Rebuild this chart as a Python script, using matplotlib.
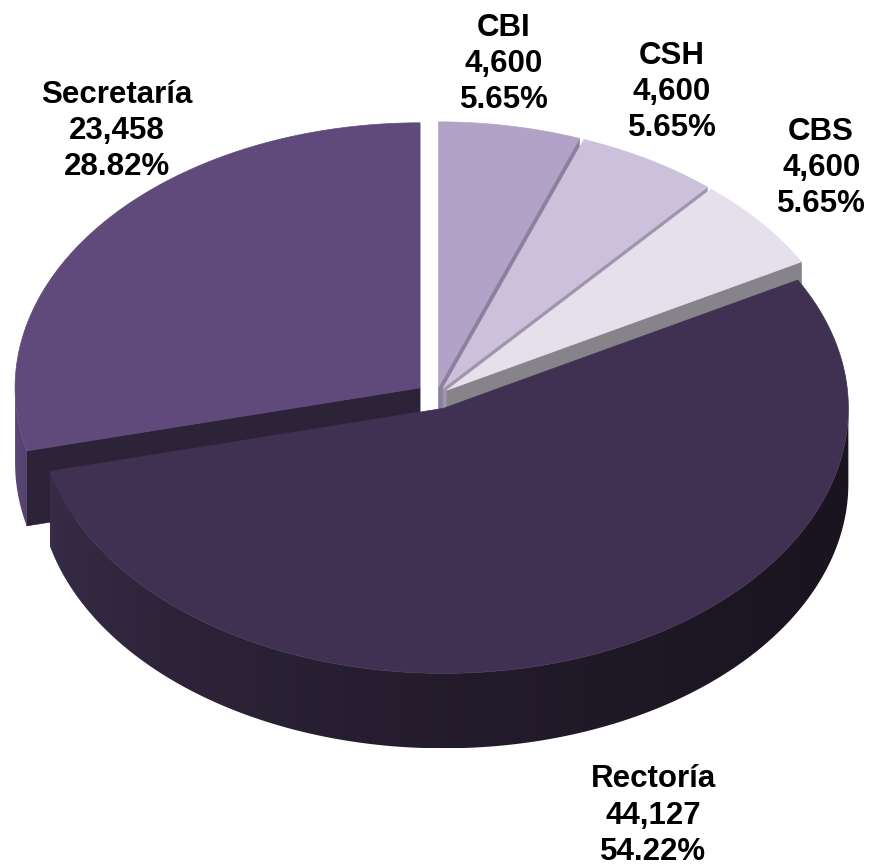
import numpy as np
import matplotlib.pyplot as plt
from matplotlib.patches import Polygon
from matplotlib.colors import to_rgb

# ----- datos -----
labels = ['CBI', 'CSH', 'CBS', 'Rectoría', 'Secretaría']
values = [4600, 4600, 4600, 44127, 23458]

# ----- estilo -----
top_colors = ['#B3A2C7', '#CCC1DA', '#E5E0EC', '#403152', '#604A7B']
wall_colors = ['#8C80A0', '#9E95AE', '#87838A', '#2E2440', '#2D2339']
side_light = ['#9A8CB0', '#B0A5C0', '#C8C2D0', '#382D48', '#5C497A']
side_dark = ['#9A8CB0', '#B0A5C0', '#C8C2D0', '#1A1420', '#54426F']
explode = [0.035, 0.035, 0.035, 0.05, 0.05]
label_xy = [(0.168, 0.820), (0.583, 0.751), (0.951, 0.563), (0.536, -1.036), (-0.788, 0.654)]

K = 265 / 405   # achatamiento del disco inclinado
H = 75 / 405    # grosor del pastel

zo = [1]


def nz():
    zo[0] += 1
    return zo[0]


def proj(theta, r, z, off):
    t = np.radians(theta)
    return np.column_stack([off[0] + r * np.sin(t), off[1] + r * np.cos(t) * K + z])


def draw_slice(ax, a1, a2, i):
    mid = np.radians((a1 + a2) / 2)
    off = (explode[i] * np.sin(mid), explode[i] * np.cos(mid) * K)
    c_top = proj([0], 0, 0, off)
    c_bot = proj([0], 0, -H, off)

    # caras radiales visibles
    for phi, visible in ((a1, np.sin(np.radians(a1)) < -1e-6), (a2, np.sin(np.radians(a2)) > 1e-6)):
        if visible:
            pts = np.vstack([c_top, proj([phi], 1, 0, off), proj([phi], 1, -H, off), c_bot])
            ax.add_patch(Polygon(pts, closed=True, fc=wall_colors[i], ec=wall_colors[i],
                                 lw=0.5, zorder=nz()))

    # pared exterior (parte frontal) con degradado horizontal
    s1, s2 = max(a1, 90), min(a2, 270)
    if s2 > s1:
        th = np.linspace(s1, s2, 200)
        pts = np.vstack([proj(th, 1, 0, off), proj(th[::-1], 1, -H, off)])
        z = nz()
        clip = Polygon(pts, closed=True, fc='none', ec='none', zorder=z)
        ax.add_patch(clip)
        x0, x1 = pts[:, 0].min(), pts[:, 0].max()
        y0, y1 = pts[:, 1].min(), pts[:, 1].max()
        t = np.linspace(0, 1, 256) ** 0.55
        light, dark = np.array(to_rgb(side_light[i])), np.array(to_rgb(side_dark[i]))
        img = (light[None, :] + (dark - light)[None, :] * t[:, None])[None, :, :]
        im = ax.imshow(img, extent=(x0, x1, y0, y1), aspect='auto', zorder=z,
                       interpolation='bilinear')
        im.set_clip_path(clip)

    # cara superior
    th = np.linspace(a1, a2, 200)
    pts = np.vstack([c_top, proj(th, 1, 0, off)])
    ax.add_patch(Polygon(pts, closed=True, fc=top_colors[i], ec=top_colors[i],
                         lw=0.5, zorder=nz()))


fig = plt.figure(figsize=(8.7, 8.66), dpi=100)
ax = fig.add_axes([0, 0, 1, 1])
ax.axis('off')

total = sum(values)
bounds = np.concatenate([[0], np.cumsum(values)]) / total * 360

for i in [0, 1, 2, 4, 3]:
    draw_slice(ax, bounds[i], bounds[i + 1], i)

for i, lab in enumerate(labels):
    txt = f"{lab}\n{values[i]:,}\n{values[i] / total * 100:.2f}%"
    ax.text(label_xy[i][0], label_xy[i][1], txt, ha='center', va='center',
            multialignment='center', fontsize=22.5, fontweight='bold',
            family=['Liberation Sans', 'DejaVu Sans'], linespacing=1.27, zorder=100)

ax.set_xlim(-436 / 405, 434 / 405)
ax.set_ylim(-470 / 405, 396 / 405)

fig.savefig('out.png', dpi=100)
